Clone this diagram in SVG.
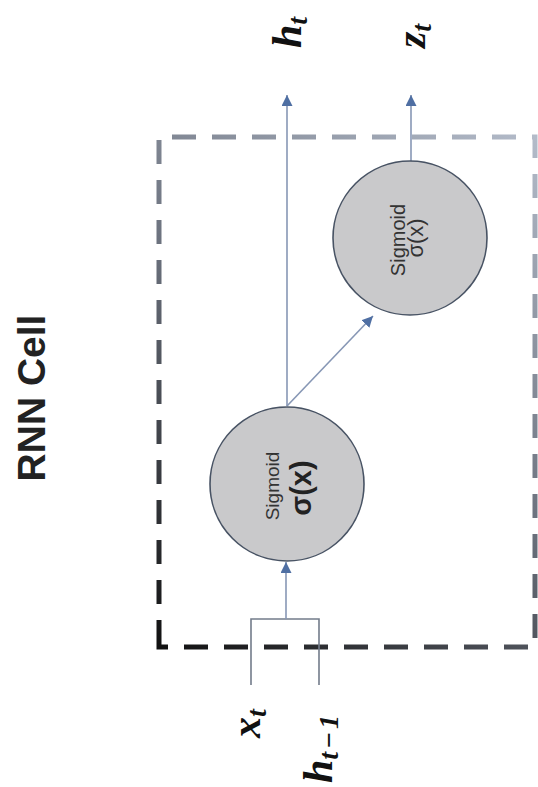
<svg xmlns="http://www.w3.org/2000/svg" width="538" height="787" viewBox="0 0 538 787">
  <defs>
    <linearGradient id="boxGrad" gradientUnits="userSpaceOnUse" x1="159" y1="647" x2="535" y2="137">
      <stop offset="0" stop-color="#111111"/>
      <stop offset="0.5" stop-color="#6a707c"/>
      <stop offset="1" stop-color="#b3bbc9"/>
    </linearGradient>
    <marker id="arr" markerUnits="userSpaceOnUse" markerWidth="11" markerHeight="11" refX="11" refY="5.5" orient="auto">
      <path d="M0,0 L11,5.5 L0,11 z" fill="#4f6fa3"/>
    </marker>
    <style>
      .sig { fill: #c9c9cb; stroke: #485364; stroke-width: 1.6; }
      .flow { fill: none; stroke: #8797b5; stroke-width: 1.6; }
      .brk { fill: none; stroke: #737c8b; stroke-width: 1.6; }
      .sans { font-family: "Liberation Sans", Arial, sans-serif; }
      .math { font-family: "Liberation Serif", "Times New Roman", serif; font-style: italic; font-weight: bold; font-size: 42px; fill: #111; }
    </style>
  </defs>
  <rect width="538" height="787" fill="#ffffff"/>

  <g id="title">
    <text class="sans" transform="translate(45,398) rotate(-90)" text-anchor="middle" font-size="39" font-weight="bold" fill="#222">RNN Cell</text>
  </g>

  <g id="cell-box">
    <path d="M159,632 V647 H535 V137 H159 V632" fill="none" stroke="url(#boxGrad)" stroke-width="5" stroke-dasharray="24 16"/>
  </g>

  <g id="connectors">
    <path class="brk" d="M251,685 V619 H319 V685"/>
    <path class="flow" d="M286,619 V562" marker-end="url(#arr)"/>
    <path class="flow" d="M287,406 V95" marker-end="url(#arr)"/>
    <path class="flow" d="M287,406 L373,316" marker-end="url(#arr)"/>
    <path class="flow" d="M411,161 V95" marker-end="url(#arr)"/>
  </g>

  <g id="sigmoid-1">
    <circle class="sig" cx="287" cy="484" r="77"/>
    <text class="sans" transform="translate(279,486) rotate(-90)" text-anchor="middle" font-size="19" fill="#333">Sigmoid</text>
    <text class="sans" transform="translate(311,488) rotate(-90)" text-anchor="middle" font-size="29" font-weight="bold" fill="#222">σ(x)</text>
  </g>

  <g id="sigmoid-2">
    <circle class="sig" cx="410" cy="238" r="77"/>
    <text class="sans" transform="translate(405,240) rotate(-90)" text-anchor="middle" font-size="20" fill="#333">Sigmoid</text>
    <text class="sans" transform="translate(423,238) rotate(-90)" text-anchor="middle" font-size="22" fill="#333">σ(x)</text>
  </g>

  <g id="label-ht">
    <text class="math" transform="translate(301,48) rotate(-90)">h<tspan font-size="28" dy="6">t</tspan></text>
  </g>
  <g id="label-zt">
    <text class="math" transform="translate(425,48) rotate(-90)">z<tspan font-size="28" dy="6">t</tspan></text>
  </g>
  <g id="label-xt">
    <text class="math" transform="translate(260,738) rotate(-90)">x<tspan font-size="28" dy="6">t</tspan></text>
  </g>
  <g id="label-ht1">
    <text class="math" transform="translate(332,783) rotate(-90)">h<tspan font-size="28" dy="6">t</tspan><tspan font-size="28" dx="3">−</tspan><tspan font-size="28" dx="3">1</tspan></text>
  </g>
</svg>
